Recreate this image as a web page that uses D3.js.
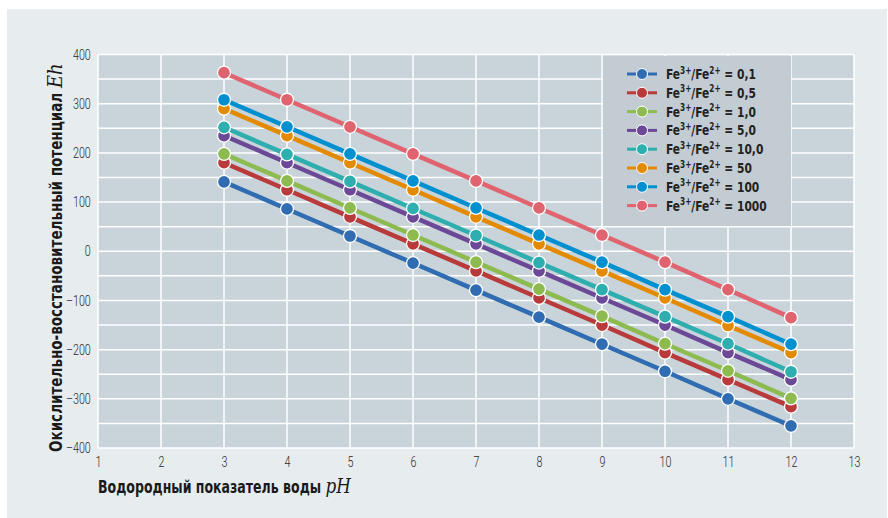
<!DOCTYPE html>
<html>
<head>
<meta charset="utf-8">
<script src="https://cdn.jsdelivr.net/npm/d3@7"></script>
<style>
  body { margin: 0; background: #fff; }
  svg { display: block; }
  .cond { font-family: 'DejaVu Sans', sans-serif; font-stretch: condensed; }
  .tick text { font-family: Roboto, sans-serif; font-weight: 300; }
</style>
</head>
<body>
<div id="chart"></div>
<script>
// data
var phValues = [3, 4, 5, 6, 7, 8, 9, 10, 11, 12];
var ratioLabels = ["0,1", "0,5", "1,0", "5,0", "10,0", "50", "100", "1000"];
var colors = ["#2f6cb1", "#b83a3a", "#8dbb4f", "#6c4996", "#2eaeae", "#e48a00", "#0090d0", "#e0646f"];
var eh01   = [141, 86, 31, -24, -79, -134, -189, -244, -300, -355];
var eh05   = [180, 125, 70, 15, -40, -95, -150, -206, -261, -316];
var eh10   = [198, 143, 88, 33, -22, -77, -132, -188, -243, -299];
var eh50   = [235, 180, 125, 70, 15, -40, -95, -150, -206, -261];
var eh100  = [252, 197, 142, 87, 32, -23, -78, -133, -188, -245];
var eh500  = [290, 235, 180, 125, 70, 15, -40, -95, -151, -206];
var eh1000 = [308, 253, 198, 143, 88, 33, -22, -78, -133, -189];
var eh10000 = [363, 308, 253, 198, 143, 88, 33, -22, -78, -135];
var xTicks = [1, 2, 3, 4, 5, 6, 7, 8, 9, 10, 11, 12, 13];
var yTicks = [-400, -300, -200, -100, 0, 100, 200, 300, 400];

var series = [eh01, eh05, eh10, eh50, eh100, eh500, eh1000, eh10000];

var W = 888, H = 518;

document.addEventListener('DOMContentLoaded', function () {
  draw();
}, false);

// squeeze a text horizontally so it is `target` px long
function fitWidth(sel, target, base) {
  var len = sel.node().getComputedTextLength();
  var s = target / len;
  sel.attr("transform", base + " scale(" + s + ",1)");
  return s;
}

function draw() {
  var svg = d3.select("#chart").append("svg")
    .attr("width", W).attr("height", H);

  svg.append("rect").attr("x", 7).attr("y", 9)
    .attr("width", W - 8).attr("height", H - 9)
    .attr("fill", "#e7ecef");

  var x = d3.scaleLinear().domain([1, 13]).range([98, 854]);
  var y = d3.scaleLinear().domain([-400, 400]).range([448, 54.5]);

  // plot area
  svg.append("rect")
    .attr("x", x(1)).attr("y", y(400))
    .attr("width", x(13) - x(1)).attr("height", y(-400) - y(400))
    .attr("fill", "#c8d3da");

  // grid
  var g = svg.append("g");
  g.selectAll("line.h")
    .data(d3.range(-400, 401, 50))
    .enter().append("line")
    .attr("x1", x(1)).attr("x2", x(13))
    .attr("y1", function(d){ return y(d); })
    .attr("y2", function(d){ return y(d); })
    .attr("stroke", "#fff").attr("stroke-width", 1.5);
  g.selectAll("line.v")
    .data(xTicks)
    .enter().append("line")
    .attr("y1", y(400)).attr("y2", y(-400))
    .attr("x1", function(d){ return x(d); })
    .attr("x2", function(d){ return x(d); })
    .attr("stroke", "#fff").attr("stroke-width", 1.5);

  // axes
  var yAxis = svg.append("g")
    .attr("transform", "translate(" + (x(1) - 5) + ",0)")
    .call(d3.axisLeft(y).tickValues(yTicks).tickSize(0)
      .tickFormat(function(d){ return d < 0 ? "\u2013" + Math.abs(d) : d; }));
  yAxis.select(".domain").remove();
  yAxis.selectAll("text")
    .attr("font-size", 14.5)
    .attr("fill", "#2a2a2a")
    .attr("transform", "scale(0.74,1)");

  var xAxis = svg.append("g")
    .attr("transform", "translate(0," + (y(-400) + 6) + ")")
    .call(d3.axisBottom(x).tickValues(xTicks).tickSize(0).tickFormat(d3.format("d")));
  xAxis.select(".domain").remove();
  xAxis.selectAll("text")
    .attr("font-size", 14.5)
    .attr("fill", "#2a2a2a")
    .attr("transform", "scale(0.74,1)");

  // lines
  var line = d3.line()
    .x(function(d, i){ return x(phValues[i]); })
    .y(function(d){ return y(d); });

  series.forEach(function(s, k){
    svg.append("path")
      .attr("d", line(s))
      .attr("fill", "none")
      .attr("stroke", colors[k])
      .attr("stroke-width", 4.5);
  });
  series.forEach(function(s, k){
    svg.selectAll(null)
      .data(s)
      .enter().append("circle")
      .attr("cx", function(d, i){ return x(phValues[i]); })
      .attr("cy", function(d){ return y(d); })
      .attr("r", 6.5)
      .attr("fill", colors[k])
      .attr("stroke", "#fff")
      .attr("stroke-width", 1.3);
  });

  // legend
  var leg = svg.append("g");
  leg.append("rect")
    .attr("x", 603).attr("y", 56)
    .attr("width", 188).attr("height", 170)
    .attr("fill", "#c3ccd3");
  var rows = leg.selectAll("g.row")
    .data(ratioLabels)
    .enter().append("g")
    .attr("transform", function(d, i){ return "translate(0," + (74 + i * 18.8) + ")"; });
  rows.append("line")
    .attr("x1", 627).attr("x2", 657)
    .attr("stroke", function(d, i){ return colors[i]; })
    .attr("stroke-width", 3);
  rows.append("circle")
    .attr("cx", 642).attr("r", 5.5)
    .attr("fill", function(d, i){ return colors[i]; })
    .attr("stroke", "#fff").attr("stroke-width", 1);
  var txt = rows.append("text")
    .attr("class", "cond")
    .attr("x", 0).attr("y", 5)
    .attr("font-weight", "bold")
    .attr("font-size", 14.5).attr("fill", "#222");
  txt.append("tspan").text("Fe");
  txt.append("tspan").attr("dy", -5.5).attr("font-size", 10).text("3+");
  txt.append("tspan").attr("dy", 5.5).text("/Fe");
  txt.append("tspan").attr("dy", -5.5).attr("font-size", 10).text("2+");
  txt.append("tspan").attr("dy", 5.5).text(function(d){ return " = " + d; });
  var ls = 90 / txt.node().getComputedTextLength();
  txt.attr("transform", "translate(666,0) scale(" + ls + ",1)");

  // axis titles
  var xt = svg.append("text")
    .attr("class", "cond")
    .attr("x", 0).attr("y", 0)
    .attr("font-weight", "bold")
    .attr("font-size", 17.5).attr("fill", "#1a1a1a");
  xt.append("tspan").text("Водородный показатель воды ");
  xt.append("tspan").attr("font-family", "'DejaVu Serif', 'Liberation Serif', serif")
    .style("font-stretch", "normal")
    .attr("font-style", "italic").attr("font-weight", "normal")
    .attr("font-size", 21).text("pH");
  fitWidth(xt, 253, "translate(98,493)");

  var yt = svg.append("text")
    .attr("class", "cond")
    .attr("x", 0).attr("y", 0)
    .attr("font-weight", "bold")
    .attr("font-size", 17.5).attr("fill", "#1a1a1a");
  yt.append("tspan").text("Окислительно-восстановительный потенциал ");
  yt.append("tspan").attr("font-family", "'DejaVu Serif', 'Liberation Serif', serif")
    .style("font-stretch", "normal")
    .attr("font-style", "italic").attr("font-weight", "normal")
    .attr("font-size", 21).text("Eh");
  fitWidth(yt, 389, "translate(62,452) rotate(-90)");
}
</script>
</body>
</html>
